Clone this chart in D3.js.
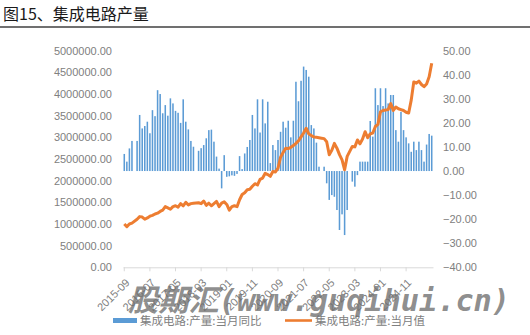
<!DOCTYPE html>
<html>
<head>
<meta charset="utf-8">
<script src="https://cdn.jsdelivr.net/npm/d3@7/dist/d3.min.js"></script>
<style>
body { margin: 0; background: #fff; }
svg text { font-family: "Liberation Sans", Arial, sans-serif; }
</style>
</head>
<body>
<div id="chart"></div>
<script>
// chart size
var svgWidth = 530;
var svgHeight = 335;

// categories: one per month, 2015-09 .. 2025-09
var months = d3.timeMonth.range(new Date(2015, 8, 1), new Date(2025, 9, 1)).map(d3.timeFormat("%Y-%m"));
var tickLabels = ["2015-09", "2016-07", "2017-05", "2018-03", "2019-01", "2019-11",
  "2020-09", "2021-07", "2022-05", "2023-03", "2024-01", "2024-11"];

// 集成电路:产量:当月同比 (%), right axis
var yoy = [
  7.1, 3.9, 9.4, 12.5,
  null, 12.5, 23.3, 17.7, 18.7, 20.5, 15.7, 25.3, 22.8, 33.6, 32.0, 24.0,
  27.4, 23.0, 30.2, 28.1, 25.0, 24.2, 20.0, 29.8, 20.5, 17.3, 12.5, 10.1,
  null, 8.4, 9.5, 10.8, 13.6, 17.0, 17.2, 12.2, 6.0, 1.0, -7.2, 6.6,
  -2.4, -2.2, -1.8, -2.0, -1.2, 6.2, 0.8, 7.3, 10.0, 12.9, 23.3, 17.7,
  29.8, 16.0, 29.8, 19.8, 28.8, 3.3, 10.8, 8.7, 12.9, 16.3, 20.5, 18.0,
  20.9, 14.0, 20.9, 37.1, 29.0, 37.5, 43.4, 42.0, 39.2, 19.1, 17.7, 11.8,
  1.8, null, 1.8, -5.1, -12.0, -10.0, -10.7, -16.2, -24.5, -18.0, -26.6, -16.2,
  null, -4.4, -6.5, -1.7, 3.9, 3.9, 3.9, 3.9, 20.8, 14.3, 34.4, 27.4,
  34.4, 27.0, 34.4, 28.1, 31.6, 31.6, 17.0, 12.2, 24.6, 17.0, 14.0, 11.5,
  8.0, 12.2, 8.7, 12.2, 8.7, 3.9, 11.0, 15.4, 14.7
];

// 集成电路:产量:当月值 (万块), left axis
var output = [
  1000000, 940000, 1000000, 1020000,
  null, 1110000, 1170000, 1160000, 1110000, 1140000, 1180000, 1200000, 1230000, 1250000, 1290000, 1320000,
  1400000, 1370000, 1340000, 1400000, 1420000, 1390000, 1470000, 1420000, 1500000, 1440000, 1470000, 1480000,
  null, 1490000, 1470000, 1530000, 1430000, 1480000, 1420000, 1470000, 1520000, 1400000, 1480000, 1510000,
  1450000, 1320000, 1400000, 1420000, 1400000, 1560000, 1680000, 1720000, 1790000, 1800000, 1870000, 1930000,
  1900000, 2030000, 2060000, 2170000, 2140000, 2100000, 2210000, 2200000, 2290000, 2540000, 2650000, 2750000,
  2740000, 2770000, 2810000, 2860000, 2920000, 3010000, 3100000, 3210000, 3080000, 3040000, 3010000, 3000000,
  2990000, 2980000, 2970000, 2900000, 2600000, 2700000, 2860000, 2750000, 2600000, 2480000, 2250000, 2560000,
  null, 2790000, 2780000, 2940000, 2850000, 2960000, 3130000, 2990000, 3080000, 3100000, 3250000, 3300000,
  3590000, 3620000, 3630000, 3640000, 3780000, 3620000, 3700000, 3660000, 3640000, 3620000, 3580000, 3560000,
  3860000, 4280000, 4250000, 4300000, 4220000, 4170000, 4230000, 4400000, 4710000
];

var leftTicks = d3.range(0, 5000001, 500000);
var rightTicks = d3.range(-40, 51, 10);

var blue = "#5b9bd5";
var orange = "#ed7d31";
var labelColor = "#808080";

var svg = d3.select("#chart")
  .append("svg")
  .attr("width", svgWidth)
  .attr("height", svgHeight);

// title + rule under it
svg.append("text")
  .attr("x", 3)
  .attr("y", 20)
  .attr("font-size", 16)
  .attr("fill", "#1a1a1a")
  .style("font-family", "'Noto Sans CJK SC', sans-serif")
  .text("图15、集成电路产量");

svg.append("line")
  .attr("x1", 0).attr("x2", svgWidth)
  .attr("y1", 27).attr("y2", 27)
  .attr("stroke", "#404040")
  .attr("stroke-width", 1.6);

// scales
var x = d3.scaleBand()
  .domain(months)
  .range([123, 433])
  .paddingInner(0.4)
  .paddingOuter(0.2);

var yLeft = d3.scaleLinear()
  .domain([0, 5000000])
  .range([267.3, 50.7]);

var yRight = d3.scaleLinear()
  .domain([-40, 50])
  .range([267.3, 50.7]);

// axes
var leftAxis = d3.axisLeft(yLeft).tickValues(leftTicks).tickSize(0).tickPadding(0)
  .tickFormat(d3.format(".2f"));
var rightAxis = d3.axisRight(yRight).tickValues(rightTicks).tickSize(0).tickPadding(0)
  .tickFormat(d3.format(".2f"));

var gLeft = svg.append("g")
  .attr("transform", "translate(112,0)")
  .call(leftAxis);
var gRight = svg.append("g")
  .attr("transform", "translate(443,0)")
  .call(rightAxis);

[gLeft, gRight].forEach(function(g) {
  g.select(".domain").remove();
  g.selectAll("text")
    .attr("fill", labelColor)
    .attr("font-size", 11)
    .style("font-family", "'Liberation Sans', Arial, sans-serif");
});

// bars (yoy, right axis)
var barData = yoy.map(function(v, i) { return { m: months[i], v: v }; })
  .filter(function(d) { return d.v !== null; });

svg.append("g")
  .selectAll("rect")
  .data(barData)
  .enter()
  .append("rect")
  .attr("x", d => x(d.m))
  .attr("width", x.bandwidth())
  .attr("y", d => yRight(Math.max(0, d.v)))
  .attr("height", d => Math.abs(yRight(d.v) - yRight(0)))
  .attr("fill", blue);

// bottom axis
var bottomAxis = d3.axisBottom(x)
  .tickValues(tickLabels)
  .tickSize(4)
  .tickSizeOuter(0);

var gX = svg.append("g")
  .attr("transform", "translate(0,267.3)")
  .call(bottomAxis);

gX.select(".domain").attr("stroke", "#d9d9d9");
gX.selectAll(".tick line").attr("stroke", "#d9d9d9");
gX.selectAll("text")
  .attr("fill", labelColor)
  .attr("font-size", 11)
  .attr("text-anchor", "end")
  .attr("dy", null)
  .attr("y", 0)
  .attr("transform", "translate(6,16) rotate(-45)");

// line (output, left axis)
var lineData = output.map(function(v, i) { return { m: months[i], v: v }; })
  .filter(function(d) { return d.v !== null; });

var line = d3.line()
  .x(d => x(d.m) + x.bandwidth() / 2)
  .y(d => yLeft(d.v));

svg.append("path")
  .datum(lineData)
  .attr("d", line)
  .attr("fill", "none")
  .attr("stroke", orange)
  .attr("stroke-width", 3)
  .attr("stroke-linejoin", "round");

// legend
var legend = svg.append("g");
legend.append("rect")
  .attr("x", 113).attr("y", 318)
  .attr("width", 24).attr("height", 5)
  .attr("fill", blue);
legend.append("text")
  .attr("x", 140).attr("y", 325)
  .attr("font-size", 11.5)
  .attr("fill", labelColor)
  .style("font-family", "'Noto Sans CJK SC', sans-serif")
  .text("集成电路:产量:当月同比");
legend.append("line")
  .attr("x1", 285).attr("x2", 312)
  .attr("y1", 320.5).attr("y2", 320.5)
  .attr("stroke", orange)
  .attr("stroke-width", 2.6);
legend.append("text")
  .attr("x", 315).attr("y", 325)
  .attr("font-size", 11.5)
  .attr("fill", labelColor)
  .style("font-family", "'Noto Sans CJK SC', sans-serif")
  .text("集成电路:产量:当月值");

// watermark over the bottom of the picture
svg.append("text")
  .attr("x", 128).attr("y", 311)
  .attr("font-size", 30)
  .attr("font-weight", "bold")
  .attr("font-style", "italic")
  .attr("fill", "#707070")
  .attr("fill-opacity", 0.8)
  .attr("textLength", 382)
  .attr("lengthAdjust", "spacingAndGlyphs")
  .style("font-family", "'DejaVu Sans Mono', 'Noto Sans CJK SC', monospace")
  .text("股期汇(www.guqihui.cn)");
</script>
</body>
</html>
